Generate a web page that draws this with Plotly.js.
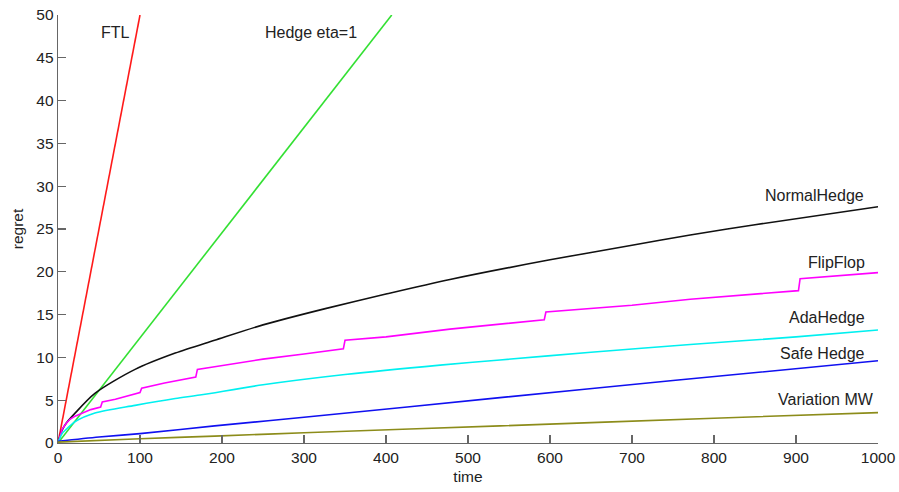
<!DOCTYPE html>
<html>
<head>
<meta charset="utf-8">
<script src="https://cdn.plot.ly/plotly-3.0.1.min.js"></script>
<style>html,body{margin:0;padding:0;background:#fff;}#chart{width:899px;height:492px;}</style>
</head>
<body>
<div id="chart"></div>
<script>
// Data
const ftlX = [0, 100];
const ftlY = [0, 50];
const hedgeX = [0, 407];
const hedgeY = [0, 50];
const normalX = [0, 5, 10, 20, 45, 94, 143, 191, 250, 326, 400, 478, 600, 700, 771, 850, 1000];
const normalY = [0, 1.5, 2.3, 3.4, 5.8, 8.6, 10.5, 12.0, 13.8, 15.7, 17.4, 19.1, 21.4, 23.1, 24.3, 25.5, 27.6];
const flipX = [0, 5, 10, 15, 20, 30, 40, 52, 54, 70, 100, 102, 130, 168, 170, 191, 250, 300, 348, 350, 400, 478, 539, 593, 595, 700, 771, 903, 905, 950, 1000];
const flipY = [0, 1.6, 2.3, 2.8, 3.1, 3.5, 3.9, 4.2, 4.8, 5.1, 5.9, 6.4, 7.0, 7.7, 8.6, 8.9, 9.8, 10.4, 11.0, 12.0, 12.4, 13.3, 13.9, 14.4, 15.3, 16.1, 16.8, 17.8, 19.2, 19.5, 19.9];
const adaX = [0, 5, 10, 21, 45, 94, 143, 173, 250, 350, 466, 539, 650, 771, 900, 1000];
const adaY = [0, 1.1, 1.6, 2.5, 3.5, 4.4, 5.2, 5.6, 6.8, 8.0, 9.1, 9.7, 10.6, 11.5, 12.4, 13.2];
const safeX = [0, 50, 100, 191, 300, 539, 750, 1000];
const safeY = [0.2, 0.7, 1.1, 2.0, 3.0, 5.3, 7.3, 9.6];
const varX = [0, 100, 191, 300, 539, 800, 1000];
const varY = [0.1, 0.5, 0.8, 1.2, 2.0, 2.9, 3.55];

const labelNames = ["FTL", "Hedge eta=1", "NormalHedge", "FlipFlop", "AdaHedge", "Safe Hedge", "Variation MW"];
const labelX = [90, 367, 985, 986, 986, 987, 997];
const labelY = [48.0, 48.0, 28.9, 21.1, 14.7, 10.5, 5.1];

const xTicks = [0, 100, 200, 300, 400, 500, 600, 700, 800, 900, 1000];
const yTicks = [0, 5, 10, 15, 20, 25, 30, 35, 40, 45, 50];

const series = [
  {x: ftlX, y: ftlY, color: '#ff1a1a', shape: 'linear'},
  {x: hedgeX, y: hedgeY, color: '#33e033', shape: 'linear'},
  {x: normalX, y: normalY, color: '#111111', shape: 'spline'},
  {x: flipX, y: flipY, color: '#ff00ff', shape: 'linear'},
  {x: adaX, y: adaY, color: '#00f0f0', shape: 'spline'},
  {x: safeX, y: safeY, color: '#1010f0', shape: 'spline'},
  {x: varX, y: varY, color: '#8c8c1a', shape: 'spline'}
];

const traces = series.map(s => ({
  x: s.x, y: s.y, type: 'scatter', mode: 'lines',
  line: {color: s.color, width: 1.6, shape: s.shape, smoothing: 0.8}, hoverinfo: 'skip', showlegend: false
}));

const font = {family: 'Liberation Sans, Arial, sans-serif', size: 15.5, color: '#222'};

const annotations = labelNames.map((t, i) => ({
  text: t, x: labelX[i], y: labelY[i], xref: 'x', yref: 'y',
  xanchor: 'right', yanchor: 'middle', showarrow: false,
  font: {family: font.family, size: 16, color: '#222'}
}));

const axisCommon = {
  showgrid: false, zeroline: false, showline: true, linecolor: '#666', linewidth: 1.3,
  ticks: 'inside', ticklen: 8, tickwidth: 1.3, tickcolor: '#666',
  tickfont: font, mirror: false, fixedrange: true
};

const layout = {
  width: 899, height: 492,
  margin: {l: 58, r: 21, t: 15, b: 49},
  paper_bgcolor: '#fff', plot_bgcolor: '#fff',
  font: font,
  showlegend: false,
  xaxis: Object.assign({}, axisCommon, {
    range: [0, 1000], tickvals: xTicks, ticktext: xTicks.map(String),
    title: {text: 'time', font: font, standoff: 6}
  }),
  yaxis: Object.assign({}, axisCommon, {
    range: [0, 50], tickvals: yTicks, ticktext: yTicks.map(String),
    title: {text: 'regret', font: font, standoff: 9}
  }),
  annotations: annotations
};

Plotly.newPlot('chart', traces, layout, {staticPlot: true, displayModeBar: false});
</script>
</body>
</html>
